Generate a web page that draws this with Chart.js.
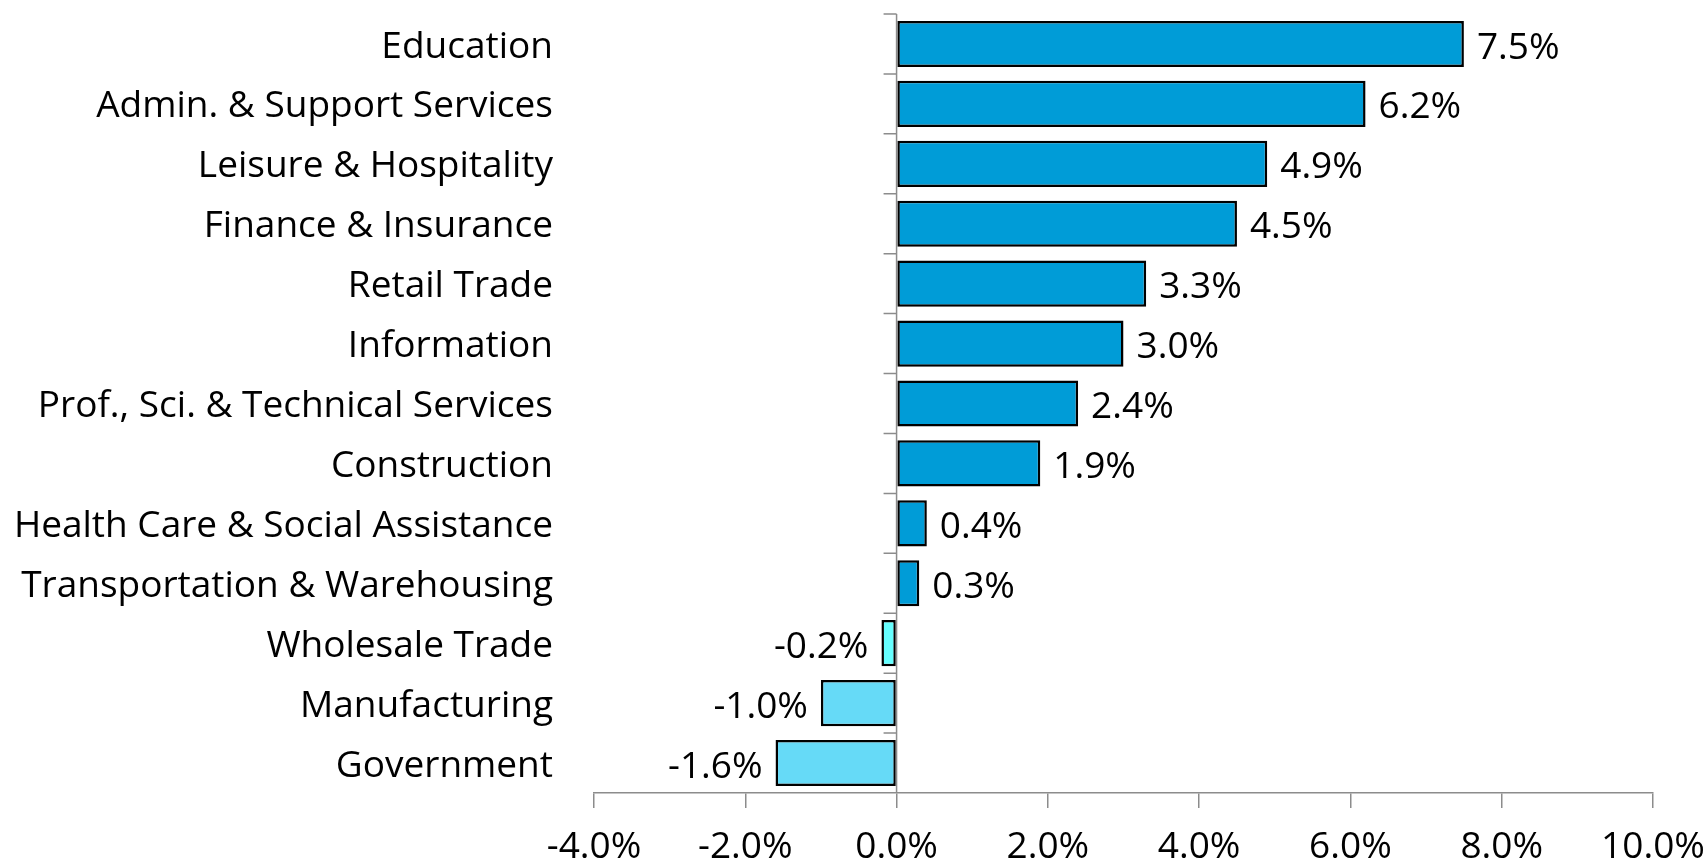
<!DOCTYPE html>
<html>
<head>
<meta charset="utf-8">
<script src="https://cdn.jsdelivr.net/npm/chart.js@4.4.0/dist/chart.umd.min.js"></script>
<style>
  html, body { margin: 0; padding: 0; background: #fff; }
  #wrap { width: 1708px; height: 862px; position: relative; }
</style>
</head>
<body>
<div id="wrap"><canvas id="barChart"></canvas></div>
<script>
var categories = ["Education", "Admin. & Support Services", "Leisure & Hospitality",
  "Finance & Insurance", "Retail Trade", "Information", "Prof., Sci. & Technical Services",
  "Construction", "Health Care & Social Assistance", "Transportation & Warehousing",
  "Wholesale Trade", "Manufacturing", "Government"];
var growth = [7.5, 6.2, 4.9, 4.5, 3.3, 3.0, 2.4, 1.9, 0.4, 0.3, -0.2, -1.0, -1.6];
var barColors = ["#009cd7", "#009cd7", "#009cd7", "#009cd7", "#009cd7", "#009cd7", "#009cd7",
  "#009cd7", "#009cd7", "#009cd7", "#66ffff", "#66daf7", "#66daf7"];
var xTicks = [-4, -2, 0, 2, 4, 6, 8, 10];

var FONT = "Open Sans";
var FSIZE = 37;
var axisGray = "#8c8c8c";

// zero line, category tick marks and value labels
var extras = {
  id: 'extras',
  afterDatasetsDraw: function(chart) {
    var ctx = chart.ctx;
    var xs = chart.scales.x, ys = chart.scales.y;
    var area = chart.chartArea;
    var x0 = xs.getPixelForValue(0);
    ctx.save();
    ctx.strokeStyle = axisGray;
    ctx.lineWidth = 1.5;
    ctx.beginPath();
    ctx.moveTo(x0, area.top);
    ctx.lineTo(x0, area.bottom);
    var step = (area.bottom - area.top) / categories.length;
    for (var i = 0; i < categories.length; i++) {
      var yb = ys.getPixelForValue(i) - step / 2;
      ctx.moveTo(x0 - 13, yb);
      ctx.lineTo(x0, yb);
    }
    ctx.stroke();

    ctx.fillStyle = "#000";
    ctx.font = FSIZE + "px '" + FONT + "'";
    ctx.textBaseline = "middle";
    var meta = chart.getDatasetMeta(0);
    meta.data.forEach(function(bar, i) {
      var v = growth[i];
      var txt = v.toFixed(1) + "%";
      if (v >= 0) {
        ctx.textAlign = "left";
        ctx.fillText(txt, bar.x + 13, bar.y + 4);
      } else {
        ctx.textAlign = "right";
        ctx.fillText(txt, bar.x - 13, bar.y + 4);
      }
    });
    ctx.restore();
  }
};

new Chart(document.getElementById("barChart").getContext('2d'), {
  type: 'bar',
  data: {
    labels: categories,
    datasets: [{
      data: growth,
      backgroundColor: barColors,
      borderColor: "#000",
      borderWidth: 2.5,
      borderSkipped: false,
      barPercentage: 0.77,
      categoryPercentage: 1.0
    }]
  },
  options: {
    indexAxis: 'y',
    responsive: true,
    maintainAspectRatio: false,
    animation: false,
    layout: { padding: { top: 14, right: 55, left: 0, bottom: 0 } },
    plugins: {
      legend: { display: false },
      tooltip: { enabled: false }
    },
    scales: {
      x: {
        min: -4,
        max: 10,
        afterBuildTicks: function(scale) {
          scale.ticks = xTicks.map(function(v) { return { value: v }; });
        },
        afterFit: function(scale) {
          scale.height = 69;
          scale.paddingLeft = 0;
          scale.paddingRight = 0;
        },
        border: { display: true, color: axisGray, width: 1.5 },
        grid: {
          drawOnChartArea: false,
          drawTicks: true,
          tickLength: 15,
          color: axisGray,
          lineWidth: 1.5
        },
        ticks: {
          padding: 17,
          color: "#000",
          font: { family: FONT, size: FSIZE },
          maxRotation: 0,
          callback: function(v) { return Number(v).toFixed(1) + "%"; }
        }
      },
      y: {
        afterFit: function(scale) {
          scale.width = 594;
          scale.paddingTop = 0;
          scale.paddingBottom = 0;
        },
        border: { display: false },
        grid: { display: false, drawTicks: false },
        ticks: {
          padding: 41,
          labelOffset: 3,
          color: "#000",
          font: { family: FONT, size: FSIZE }
        }
      }
    }
  },
  plugins: [extras]
});
</script>
</body>
</html>
